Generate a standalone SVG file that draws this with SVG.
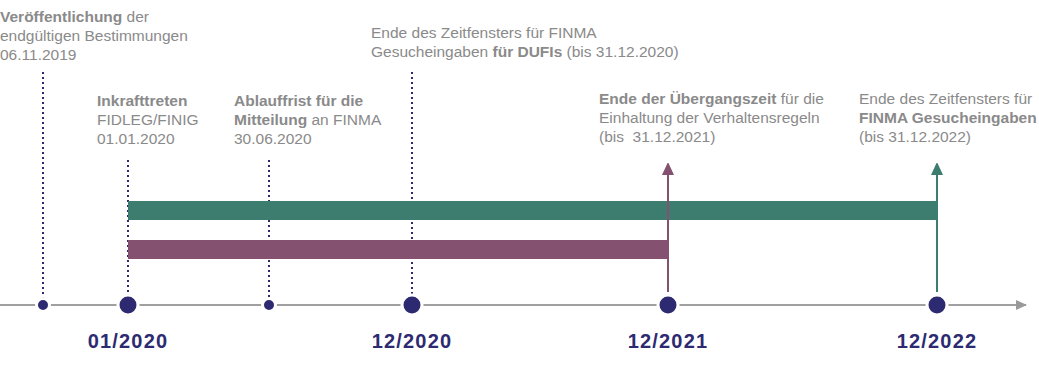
<svg xmlns="http://www.w3.org/2000/svg" width="1039" height="375" viewBox="0 0 1039 375">
<style>
.t{font-family:"Liberation Sans",Arial,sans-serif;font-size:15.5px;fill:#8a8a8a}
.b{font-weight:bold}
.d{font-family:"Liberation Sans",Arial,sans-serif;font-size:20px;font-weight:bold;fill:#2d2a72;text-anchor:middle;letter-spacing:1.2px}
.dot{stroke:#2d2a72;stroke-width:2;stroke-dasharray:2 3}
.dl{fill:#2d2a72;stroke:#fff;stroke-width:3}
</style>
<defs>
<marker id="ag" markerWidth="12" markerHeight="12" refX="10" refY="5" orient="auto" markerUnits="userSpaceOnUse"><path d="M0,0 L11,5 L0,10 Z" fill="#9a9a9a"/></marker>
<marker id="ap" markerWidth="12" markerHeight="14" refX="11" refY="6" orient="auto" markerUnits="userSpaceOnUse"><path d="M0,0 L13,6 L0,12 Z" fill="#845270"/></marker>
<marker id="at" markerWidth="12" markerHeight="14" refX="11" refY="6" orient="auto" markerUnits="userSpaceOnUse"><path d="M0,0 L13,6 L0,12 Z" fill="#3d7d6f"/></marker>
</defs>
<g id="connectors">
<line x1="0" y1="305" x2="1026" y2="305" stroke="#a0a0a0" stroke-width="2" marker-end="url(#ag)"/>
<line class="dot" x1="43" y1="72" x2="43" y2="298"/>
<line class="dot" x1="128" y1="160" x2="128" y2="296"/>
<line class="dot" x1="269" y1="160" x2="269" y2="298"/>
<line class="dot" x1="412" y1="72" x2="412" y2="296"/>
</g>
<g id="bars">
<rect x="128" y="201" width="809" height="19" fill="#3d7d6f"/>
<rect x="128" y="240" width="540" height="19" fill="#845270"/>
<line x1="668" y1="292" x2="668" y2="164" stroke="#845270" stroke-width="2" marker-end="url(#ap)"/>
<line x1="937" y1="292" x2="937" y2="164" stroke="#3d7d6f" stroke-width="2" marker-end="url(#at)"/>
</g>
<g id="dots">
<circle class="dl" cx="43" cy="305" r="6.5"/>
<circle class="dl" cx="128" cy="305" r="10"/>
<circle class="dl" cx="269" cy="305" r="6.5"/>
<circle class="dl" cx="412" cy="305" r="10"/>
<circle class="dl" cx="668" cy="305" r="10"/>
<circle class="dl" cx="937" cy="305" r="10"/>
</g>
<g id="n1"><text class="t" x="0" y="22"><tspan class="b">Veröffentlichung</tspan> der</text><text class="t" x="0" y="41">endgültigen Bestimmungen</text><text class="t" x="0" y="60">06.11.2019</text></g>
<g id="n2"><text class="t b" x="97" y="106">Inkrafttreten</text><text class="t" x="97" y="125">FIDLEG/FINIG</text><text class="t" x="97" y="144">01.01.2020</text></g>
<g id="n3"><text class="t b" x="234" y="106">Ablauffrist für die</text><text class="t" x="234" y="125"><tspan class="b">Mitteilung</tspan> an FINMA</text><text class="t" x="234" y="144">30.06.2020</text></g>
<g id="n4"><text class="t" x="371" y="38">Ende des Zeitfensters für FINMA</text><text class="t" x="371" y="57">Gesucheingaben <tspan class="b">für DUFIs</tspan> (bis 31.12.2020)</text></g>
<g id="n5"><text class="t" x="599" y="104"><tspan class="b">Ende der Übergangszeit</tspan> für die</text><text class="t" x="599" y="123">Einhaltung der Verhaltensregeln</text><text class="t" x="599" y="142">(bis&#160; 31.12.2021)</text></g>
<g id="n6"><text class="t" x="859" y="104">Ende des Zeitfensters für</text><text class="t b" x="859" y="123">FINMA Gesucheingaben</text><text class="t" x="859" y="142">(bis 31.12.2022)</text></g>
<g id="labels">
<text class="d" x="128" y="348">01/2020</text>
<text class="d" x="412" y="348">12/2020</text>
<text class="d" x="668" y="348">12/2021</text>
<text class="d" x="937" y="348">12/2022</text>
</g>
</svg>
